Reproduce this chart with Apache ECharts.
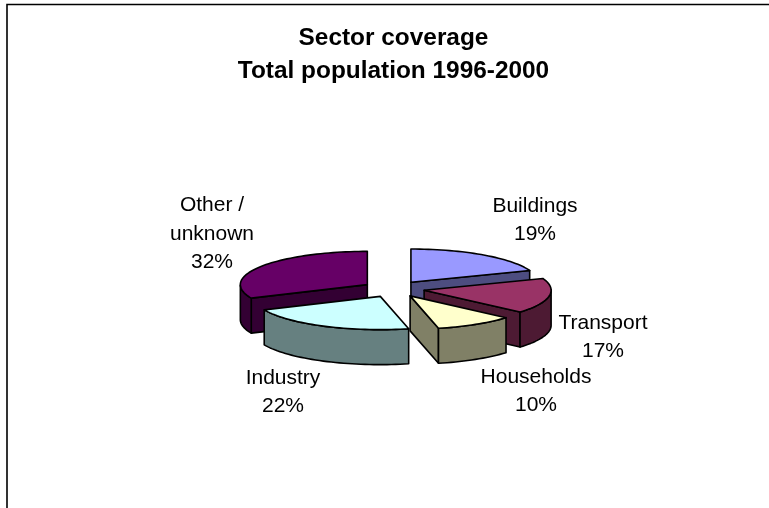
<!DOCTYPE html>
<html>
<head>
<meta charset="utf-8">
<style>html,body{margin:0;padding:0;background:#fff}#chart{width:769px;height:508px}</style>
<script src="https://cdn.jsdelivr.net/npm/echarts@6/dist/echarts.min.js"></script>
</head>
<body>
<div id="chart"></div>
<script>
// Sector shares, clockwise from twelve o'clock
const sectors = ['Buildings', 'Transport', 'Households', 'Industry', 'Other /\nunknown'];
const shares = [19, 17, 10, 22, 32];
const topColors = ['#9999FF', '#993366', '#FFFFCC', '#CCFFFF', '#660066'];
const wallColors = ['#4D4D80', '#4D1A33', '#808066', '#668080', '#330033'];
const labelCentres = [[535, 220.5], [603, 337], [536, 391], [283, 392], [212, 234]];
const paintOrder = [4, 0, 1, 2, 3];

// Projection of the tilted, exploded pie
const cx = 393.5, cy = 289, radius = 127, tilt = 0.262, depth = 35, explode = 31, skew = 1.5;
const total = shares.reduce((a, b) => a + b, 0);
const rad = d => d * Math.PI / 180;
const startAngles = shares.map((_, i) => shares.slice(0, i).reduce((a, b) => a + b, 0) / total * 360);

// Slight angular drift of the oblique view, zero at twelve o'clock
const viewAngle = a => a + skew * Math.sin(rad(a / 2));

function project(ox, oy, angle, r, z) {
  const v = viewAngle(angle);
  return [ox + r * Math.sin(rad(v)), oy - r * tilt * Math.cos(rad(v)) + (z || 0)];
}
function arc(ox, oy, a0, a1, z) {
  const pts = [];
  const n = Math.max(2, Math.ceil((a1 - a0) / 2));
  for (let k = 0; k <= n; k++) pts.push(project(ox, oy, a0 + (a1 - a0) * k / n, radius, z));
  return pts;
}
function face(points, fill) {
  return {
    type: 'polygon',
    shape: { points: points },
    style: { fill: fill, stroke: '#000', lineWidth: 1.6, lineJoin: 'round' }
  };
}

function renderSlice(params, api) {
  const i = api.value(0);
  const a0 = startAngles[i];
  const a1 = a0 + api.value(1) / total * 360;
  const mid = (a0 + a1) / 2;
  const ox = cx + explode * Math.sin(rad(mid));
  const oy = cy - explode * tilt * Math.cos(rad(mid));
  const apex = [ox, oy];
  const wall = wallColors[i];
  const children = [];

  // Radial cut faces that turn toward the viewer
  [[a0, a0 - 90], [a1, a1 + 90]].forEach(([edge, normal]) => {
    if (Math.cos(rad(normal)) < -0.01) {
      const p = project(ox, oy, edge, radius);
      children.push(face([apex, p, [p[0], p[1] + depth], [apex[0], apex[1] + depth]], wall));
    }
  });

  // Outer rim, only the part on the near half of the ellipse
  const r0 = Math.max(a0, 88), r1 = Math.min(a1, 268);
  if (r1 > r0) {
    const upper = arc(ox, oy, r0, r1, 0);
    const lower = arc(ox, oy, r0, r1, depth).reverse();
    children.push(face(upper.concat(lower), wall));
  }

  // Top face
  children.push(face([apex].concat(arc(ox, oy, a0, a1, 0)), topColors[i]));
  return { type: 'group', children: children };
}

const labelGraphics = sectors.map((name, i) => ({
  type: 'text',
  x: labelCentres[i][0],
  y: labelCentres[i][1],
  style: {
    text: name + '\n' + shares[i] + '%',
    fill: '#000',
    font: '21px "Liberation Sans", Arial, sans-serif',
    lineHeight: 28.3,
    align: 'center',
    verticalAlign: 'middle'
  }
}));

const titleGraphic = {
  type: 'text',
  x: 393.5,
  y: 55,
  style: {
    text: 'Sector coverage\nTotal population 1996-2000',
    fill: '#000',
    font: 'bold 24.4px "Liberation Sans", Arial, sans-serif',
    lineHeight: 33.5,
    align: 'center',
    verticalAlign: 'middle'
  }
};

const chart = echarts.init(document.getElementById('chart'), null, { renderer: 'canvas' });
chart.setOption({
  animation: false,
  backgroundColor: '#fff',
  graphic: [
    { type: 'polyline', shape: { points: [[7, 508], [7, 4.5], [769, 4.5]] }, style: { fill: 'none', stroke: '#000', lineWidth: 1.6 } },
    titleGraphic
  ].concat(labelGraphics),
  series: [{
    type: 'custom',
    coordinateSystem: 'none',
    renderItem: renderSlice,
    silent: true,
    data: paintOrder.map(i => [i, shares[i]])
  }]
});
</script>
</body>
</html>
